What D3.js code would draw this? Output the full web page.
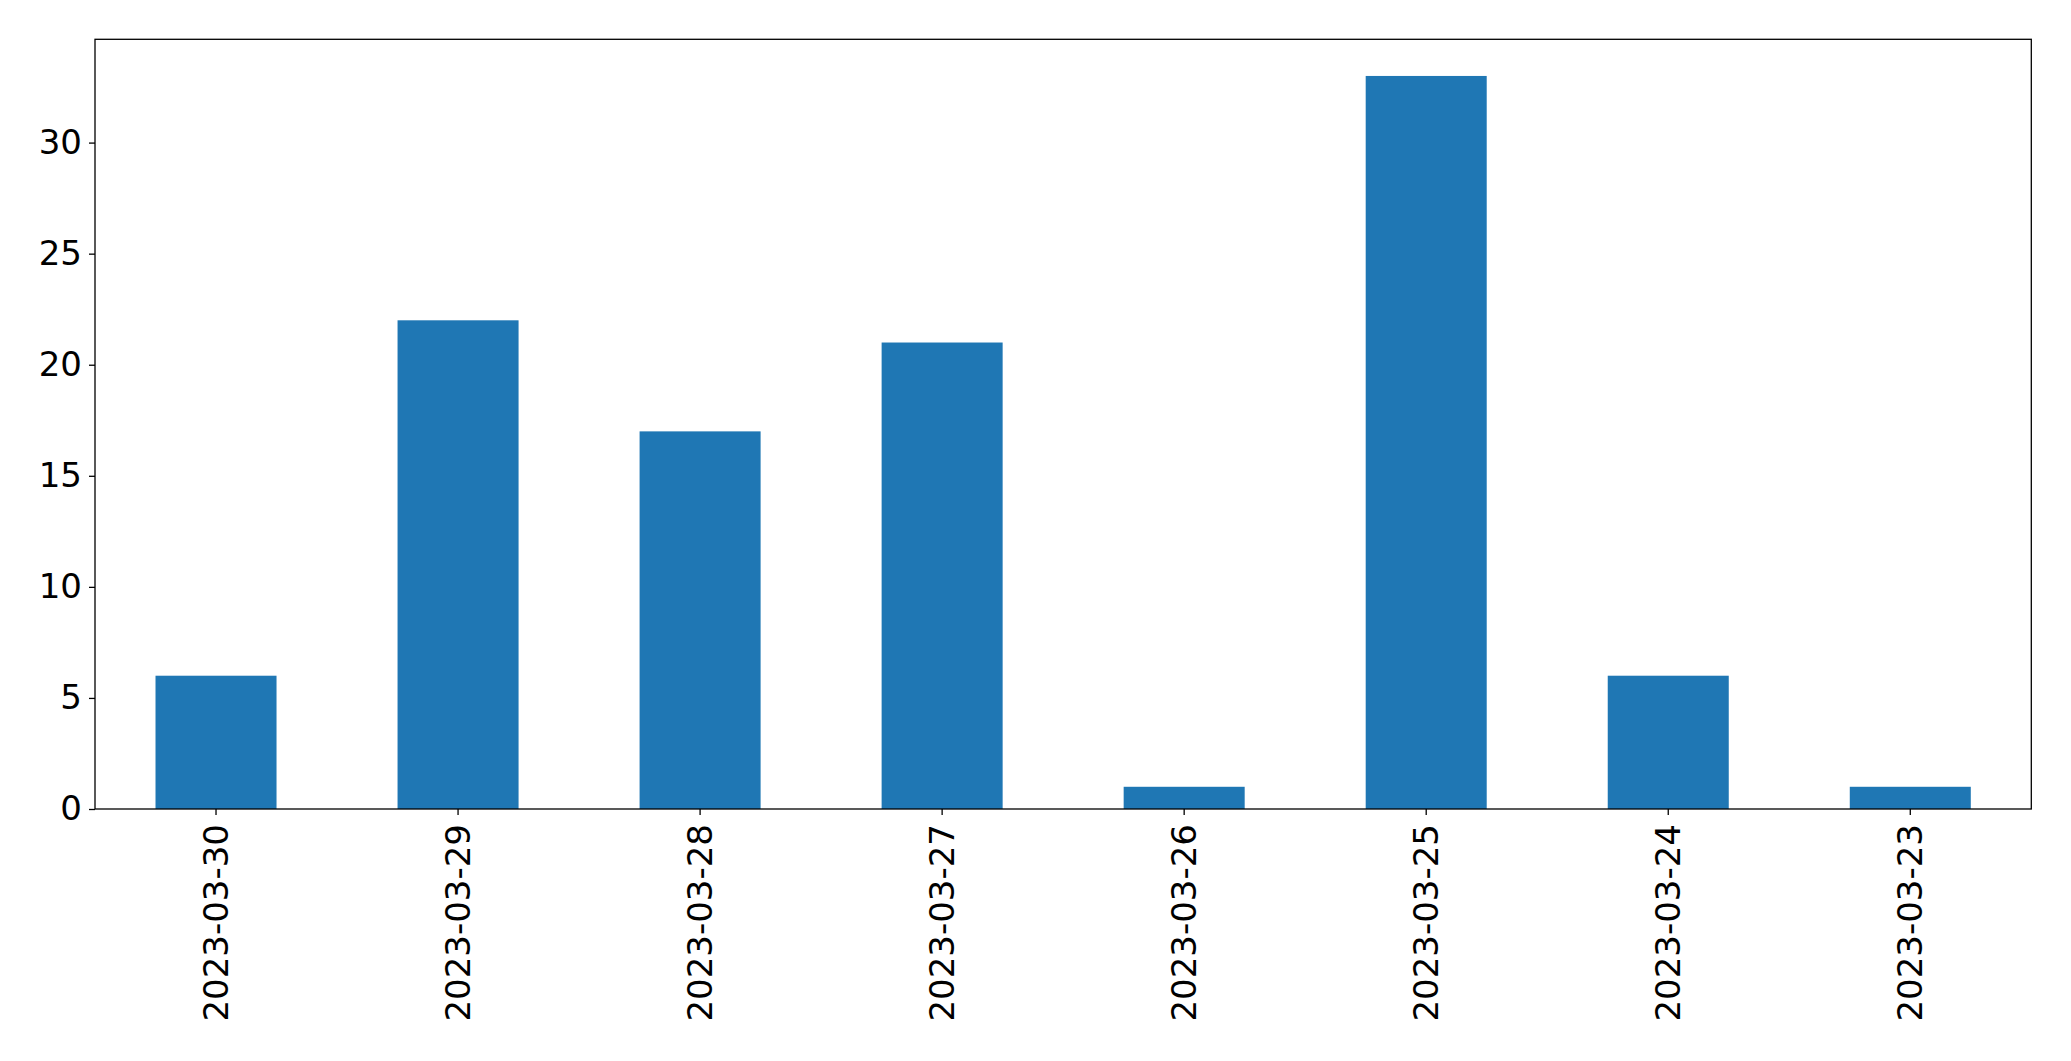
<!DOCTYPE html>
<html>
<head>
<meta charset="utf-8">
<script src="https://cdn.jsdelivr.net/npm/d3@7"></script>
<style>
  html, body { margin: 0; padding: 0; background: #fff; }
  svg { display: block; }
  text { font-family: "DejaVu Sans", sans-serif; }
</style>
</head>
<body>
<svg id="chart" width="2071" height="1061"></svg>
<script>
const categories = ["2023-03-30", "2023-03-29", "2023-03-28", "2023-03-27", "2023-03-26", "2023-03-25", "2023-03-24", "2023-03-23"];
const values = [6, 22, 17, 21, 1, 33, 6, 1];
const yTicks = [0, 5, 10, 15, 20, 25, 30];

const W = 2071, H = 1061;
const margin = {left: 95, right: 2071 - 2031.3, top: 39.3, bottom: 1061 - 809};
const svg = d3.select("#chart");
const x = d3.scaleBand().domain(categories)
  .range([margin.left, W - margin.right])
  .paddingInner(0.5).paddingOuter(0.25);
const yMax = d3.max(values) * 1.05;
const y = d3.scaleLinear().domain([0, yMax]).range([H - margin.bottom, margin.top]);

svg.append("g").selectAll("rect").data(values).join("rect")
  .attr("x", (d, i) => x(categories[i]))
  .attr("width", x.bandwidth())
  .attr("y", d => y(d))
  .attr("height", d => y(0) - y(d))
  .attr("fill", "#1f77b4");

const fs = 34;
const yAxis = svg.append("g").attr("transform", `translate(${margin.left},0)`)
  .call(d3.axisLeft(y).tickValues(yTicks).tickSize(6).tickPadding(7).tickFormat(d3.format("d")));
yAxis.select(".domain").remove();
yAxis.selectAll("text").style("font-size", fs + "px").attr("fill", "#000");
yAxis.selectAll("line").attr("stroke", "#000").attr("stroke-width", 1.3);

const xAxis = svg.append("g").attr("transform", `translate(0,${H - margin.bottom})`)
  .call(d3.axisBottom(x).tickSize(6).tickPadding(7));
xAxis.select(".domain").remove();
xAxis.selectAll("line").attr("stroke", "#000").attr("stroke-width", 1.3);
xAxis.selectAll("text")
  .style("font-size", fs + "px").attr("fill", "#000")
  .attr("text-anchor", "end")
  .attr("transform", "rotate(-90)")
  .attr("x", -(6 + 9))
  .attr("y", 0)
  .attr("dy", "0.35em");

svg.append("rect")
  .attr("x", margin.left).attr("y", margin.top)
  .attr("width", W - margin.right - margin.left)
  .attr("height", H - margin.bottom - margin.top)
  .attr("fill", "none").attr("stroke", "#000").attr("stroke-width", 1.3);
</script>
</body>
</html>
